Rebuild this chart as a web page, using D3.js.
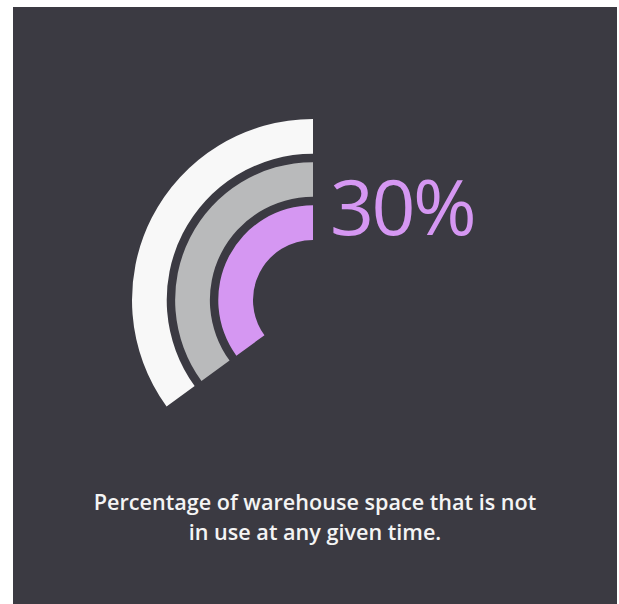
<!DOCTYPE html>
<html>
<head>
<meta charset="utf-8">
<script src="https://cdn.jsdelivr.net/npm/d3@7"></script>
<style>
  html, body { margin: 0; padding: 0; background: #fff; }
  svg { display: block; }
</style>
</head>
<body>
<script>
var width = 619;
var height = 604;

// data
var rings = ['outer', 'middle', 'inner'];
var ringShare = [0.35, 0.35, 0.35];   // share of a full turn each ring sweeps
var headline = 30;                     // percent
var captionLines = [
    'Percentage of warehouse space that is not',
    'in use at any given time.'
];

var panel = { left: 13, top: 7, right: 617, bottom: 604 };
var center = { x: 313, y: 300 };

var svg = d3.select('body')
            .append('svg')
            .attr('width', width)
            .attr('height', height);

svg.append('rect')
    .attr('x', panel.left)
    .attr('y', panel.top)
    .attr('width', panel.right - panel.left)
    .attr('height', panel.bottom - panel.top)
    .attr('fill', '#3b3a42');

var color = d3.scaleOrdinal()
                .domain(rings)
                .range(['#f8f8f8', '#b9babb', '#d597f2']);

var radius = d3.scaleBand()
                .domain(rings)
                .range([181, 60])
                .paddingInner(0.195);

var angle = d3.scaleLinear()
                .domain([0, 1])
                .range([0, 2 * Math.PI]);

var arc = d3.arc()
            .innerRadius(function (d) { return radius(d.ring); })
            .outerRadius(function (d) { return radius(d.ring) + radius.bandwidth(); })
            .startAngle(function (d) { return -angle(d.share); })
            .endAngle(0);

var g = svg.append('g')
            .attr('transform', 'translate(' + center.x + ',' + center.y + ')');

g.selectAll('.ring')
    .data(rings.map(function (r, i) { return { ring: r, share: ringShare[i] }; }))
    .enter()
    .append('path')
    .attr('class', 'ring')
    .attr('d', arc)
    .attr('fill', function (d) { return color(d.ring); });

svg.append('text')
    .attr('x', center.x + 17)
    .attr('y', 235)
    .attr('font-family', 'Open Sans, sans-serif')
    .attr('font-size', 77)
    .attr('font-weight', 500)
    .attr('letter-spacing', -2.5)
    .attr('fill', color('inner'))
    .text(headline + '%');

svg.selectAll('.caption')
    .data(captionLines)
    .enter()
    .append('text')
    .attr('class', 'caption')
    .attr('x', (panel.left + panel.right) / 2)
    .attr('y', function (d, i) { return 510 + i * 30; })
    .attr('text-anchor', 'middle')
    .attr('font-family', 'Open Sans, sans-serif')
    .attr('font-size', 21.6)
    .attr('font-weight', 600)
    .attr('fill', '#f4f4f4')
    .text(function (d) { return d; });
</script>
</body>
</html>
